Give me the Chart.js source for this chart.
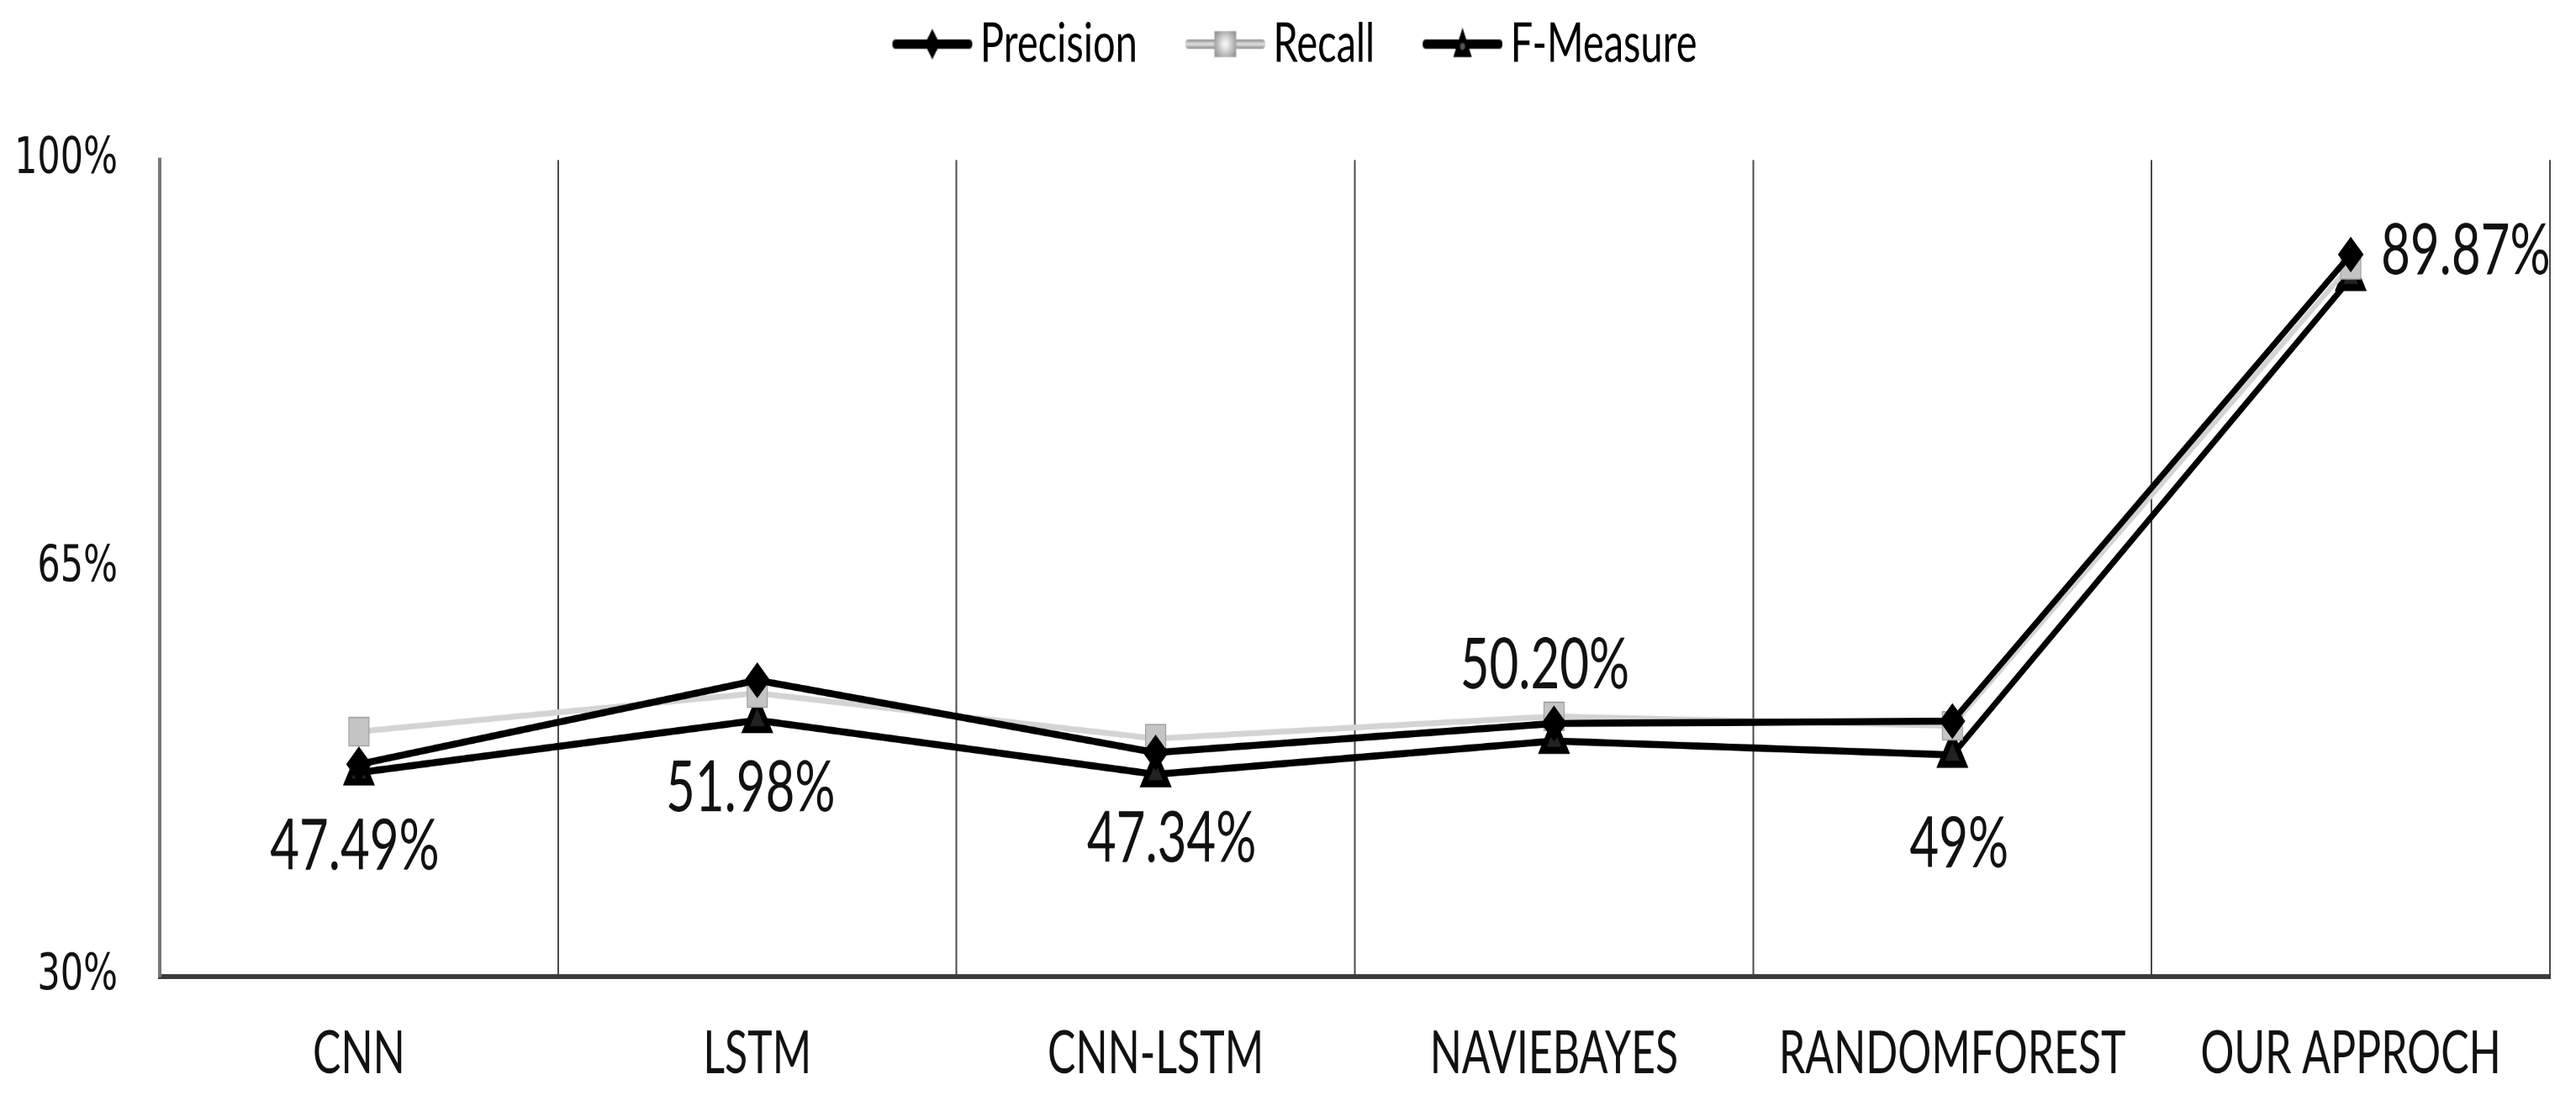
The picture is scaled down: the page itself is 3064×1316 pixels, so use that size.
<!DOCTYPE html>
<html><head><meta charset="utf-8">
<script src="https://cdn.jsdelivr.net/npm/chart.js@4.4.0/dist/chart.umd.min.js"></script>
<style>
html,body{margin:0;padding:0;background:#fff;}
#wrap{width:3064px;height:1316px;overflow:hidden;position:relative;background:#fff;}
#inner{width:3064px;height:940px;transform:scaleY(1.4);transform-origin:0 0;}
</style></head><body>
<div id="wrap"><div id="inner"><canvas id="c" width="3064" height="940"></canvas></div></div>
<script>
const categories = ['CNN', 'LSTM', 'CNN-LSTM', 'NAVIEBAYES', 'RANDOMFOREST', 'OUR APPROCH'];
const precision = [48.2, 55.4, 49.2, 51.7, 51.9, 91.9];
const recall = [51.0, 54.3, 50.4, 52.3, 51.5, 91.0];
const fMeasure = [47.49, 51.98, 47.34, 50.20, 49, 89.87];
const fMeasureLabels = ['47.49%', '51.98%', '47.34%', '50.20%', '49%', '89.87%'];
const yMin = 30, yMax = 100, yStep = 35;

function makeIcon(kind) {
  const c = document.createElement('canvas');
  c.width = 156; c.height = 40;
  const g = c.getContext('2d');
  const cy = 20, x0 = 61, x1 = 156, mx = 108.5;
  if (kind === 'recall') {
    const gr = g.createLinearGradient(0, cy - 4, 0, cy + 4);
    gr.addColorStop(0, '#888'); gr.addColorStop(0.5, '#e4e4e4'); gr.addColorStop(1, '#888');
    g.strokeStyle = gr;
  } else g.strokeStyle = '#000';
  g.lineWidth = 8; g.lineCap = 'round';
  g.beginPath(); g.moveTo(x0 + 4, cy); g.lineTo(x1 - 4, cy); g.stroke();
  if (kind === 'precision') {
    g.fillStyle = '#000';
    g.beginPath(); g.moveTo(mx, cy - 13); g.lineTo(mx + 9, cy); g.lineTo(mx, cy + 13); g.lineTo(mx - 9, cy); g.closePath(); g.fill();
  } else if (kind === 'recall') {
    const rg = g.createRadialGradient(mx, cy, 2, mx, cy, 14);
    rg.addColorStop(0, '#f2f2f2'); rg.addColorStop(1, '#9a9a9a');
    g.fillStyle = rg;
    g.fillRect(mx - 13, cy - 11, 26, 22);
  } else {
    g.fillStyle = '#000';
    g.beginPath(); g.moveTo(mx, cy - 14); g.lineTo(mx + 11, cy + 11); g.lineTo(mx - 11, cy + 11); g.closePath(); g.fill();
    g.fillStyle = '#555';
    g.beginPath(); g.arc(mx, cy + 2, 3, 0, Math.PI * 2); g.fill();
  }
  return c;
}
const legendIcons = [makeIcon('precision'), makeIcon('recall'), makeIcon('fmeasure')];

const fLabelPlugin = {
  id: 'fLabels',
  afterDatasetsDraw(chart, args, opts) {
    const meta = chart.getDatasetMeta(2);
    const ctx = chart.ctx;
    ctx.save();
    ctx.font = '60px Lato';
    ctx.fillStyle = '#111';
    ctx.textBaseline = 'middle';
    meta.data.forEach((pt, i) => {
      const o = opts.offsets[i];
      ctx.textAlign = opts.align[i];
      ctx.fillText(fMeasureLabels[i], pt.x + o[0], pt.y + o[1]);
    });
    ctx.restore();
  }
};

new Chart(document.getElementById('c'), {
  type: 'line',
  data: {
    labels: categories,
    datasets: [
      { label: 'Precision', data: precision, borderColor: '#000', backgroundColor: '#000', borderWidth: 6,
        pointStyle: 'rectRot', pointRadius: 11, pointBackgroundColor: '#000', pointBorderColor: '#000', tension: 0 },
      { label: 'Recall', data: recall, borderColor: '#d4d4d4', backgroundColor: '#c4c4c4', borderWidth: 5,
        pointStyle: 'rect', pointRadius: 17, pointBackgroundColor: '#c4c4c4', pointBorderColor: '#9a9a9a', pointBorderWidth: 1, tension: 0 },
      { label: 'F-Measure', data: fMeasure, borderColor: '#000', backgroundColor: '#000', borderWidth: 6,
        pointStyle: 'triangle', pointRadius: 16, pointBackgroundColor: '#222', pointBorderColor: '#000', tension: 0 }
    ]
  },
  options: {
    responsive: false, animation: false, devicePixelRatio: 2,
    layout: { padding: { top: 4, right: 31, bottom: 0, left: 0 } },
    plugins: {
      tooltip: { enabled: false },
      legend: {
        position: 'top',
        labels: {
          usePointStyle: true, pointStyleWidth: 128, padding: 10,
          font: { family: 'Lato', size: 47 }, color: '#000',
          generateLabels(chart) {
            const items = Chart.defaults.plugins.legend.labels.generateLabels(chart);
            items.forEach((it, i) => { it.pointStyle = legendIcons[i]; it.lineWidth = 0; });
            return items;
          }
        }
      },
      fLabels: {
        offsets: [[-5, 63], [-8, 58], [19, 55], [-11, -64], [8, 76], [36, -23]],
        align: ['center', 'center', 'center', 'center', 'center', 'left']
      }
    },
    scales: {
      x: {
        offset: true,
        grid: { display: true, offset: true, color: '#4a4a4a', lineWidth: 2, drawTicks: false },
        border: { display: true, color: '#3a3a3a', width: 4 },
        ticks: { font: { family: 'Lato', size: 50 }, color: '#111', padding: 36, maxRotation: 0, autoSkip: false },
        afterFit(s) { s.height = 110; }
      },
      x2: {
        type: 'category', axis: 'x', position: 'top', display: true,
        grid: { display: false, drawTicks: false }, border: { display: false }, ticks: { display: false },
        afterFit(s) { s.height = 65; }
      },
      y: {
        min: yMin, max: yMax,
        ticks: { stepSize: yStep, callback: v => v + '%', font: { family: 'DejaVu Sans', size: 43 }, color: '#111', padding: 50 },
        grid: { display: false, drawTicks: false },
        border: { display: true, color: '#777', width: 4 },
        afterFit(s) { s.width = 190; }
      }
    }
  },
  plugins: [fLabelPlugin]
});
</script>
</body></html>
